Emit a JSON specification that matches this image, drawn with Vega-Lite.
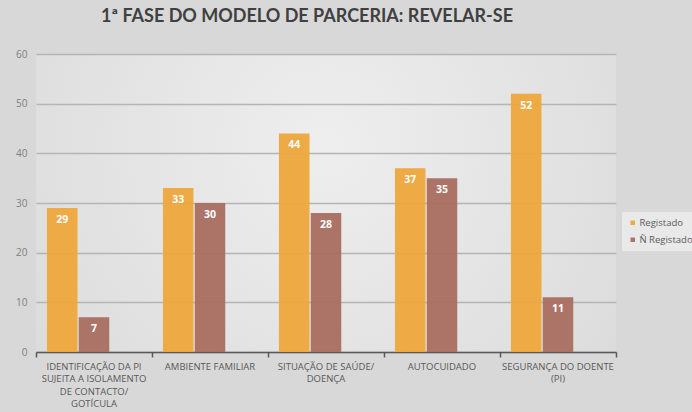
{
  "$schema": "https://vega.github.io/schema/vega-lite/v6.json",
  "width": 580,
  "height": 298,
  "autosize": {"type": "none"},
  "padding": {"left": 36, "top": 54, "right": 76, "bottom": 60},
  "background": "#d8d8d8",
  "title": {
    "text": "1ª FASE DO MODELO DE PARCERIA: REVELAR-SE",
    "fontSize": 18,
    "font": "Lato",
    "fontWeight": "bold",
    "color": "#404040",
    "anchor": "middle",
    "dx": -19,
    "offset": 23
  },
  "config": {
    "font": "Open Sans",
    "view": {
      "stroke": null,
      "fill": {
        "gradient": "radial",
        "x1": 0.5, "y1": 0.4, "r1": 0,
        "x2": 0.5, "y2": 0.4, "r2": 0.75,
        "stops": [
          {"offset": 0, "color": "#eeeeee"},
          {"offset": 1, "color": "#d8d8d8"}
        ]
      }
    }
  },
  "data": {
    "values": [
      {"cat": "IDENTIFICAÇÃO DA PI|SUJEITA A ISOLAMENTO|DE CONTACTO/|GOTÍCULA", "series": "Registado", "value": 29},
      {"cat": "IDENTIFICAÇÃO DA PI|SUJEITA A ISOLAMENTO|DE CONTACTO/|GOTÍCULA", "series": "Ñ Registado", "value": 7},
      {"cat": "AMBIENTE FAMILIAR", "series": "Registado", "value": 33},
      {"cat": "AMBIENTE FAMILIAR", "series": "Ñ Registado", "value": 30},
      {"cat": "SITUAÇÃO DE SAÚDE/|DOENÇA", "series": "Registado", "value": 44},
      {"cat": "SITUAÇÃO DE SAÚDE/|DOENÇA", "series": "Ñ Registado", "value": 28},
      {"cat": "AUTOCUIDADO", "series": "Registado", "value": 37},
      {"cat": "AUTOCUIDADO", "series": "Ñ Registado", "value": 35},
      {"cat": "SEGURANÇA DO DOENTE|(PI)", "series": "Registado", "value": 52},
      {"cat": "SEGURANÇA DO DOENTE|(PI)", "series": "Ñ Registado", "value": 11}
    ]
  },
  "encoding": {
    "x": {
      "field": "cat",
      "type": "nominal",
      "sort": null,
      "scale": {"paddingInner": 0, "paddingOuter": 0},
      "axis": {
        "title": null,
        "labelAngle": 0,
        "labelExpr": "split(datum.label, '|')",
        "labelColor": "#595959",
        "labelFontSize": 9.5,
        "labelLineHeight": 12.5,
        "labelBaseline": "top",
        "labelPadding": 4,
        "labelLimit": 0,
        "bandPosition": 1,
        "tickExtra": true,
        "ticks": true,
        "tickSize": 5,
        "tickWidth": 1.5,
        "tickColor": "#595959",
        "domainColor": "#595959",
        "domainWidth": 1.5,
        "grid": false
      }
    },
    "xOffset": {
      "field": "series",
      "scale": {"domain": ["Registado", "Ñ Registado", "-"], "paddingInner": 0.04, "paddingOuter": 0.345}
    },
    "y": {
      "field": "value",
      "type": "quantitative",
      "scale": {"domain": [0, 60]},
      "axis": {
        "title": null,
        "values": [0, 10, 20, 30, 40, 50, 60],
        "domain": false,
        "ticks": false,
        "labelColor": "#7f7f7f",
        "labelFontSize": 10,
        "labelPadding": 9,
        "gridColor": "#b5b5b5",
        "gridWidth": 1.3
      }
    }
  },
  "layer": [
    {
      "mark": {"type": "bar", "opacity": 0.95},
      "encoding": {
        "color": {
          "field": "series",
          "type": "nominal",
          "scale": {"domain": ["Registado", "Ñ Registado"], "range": ["#EDA63C", "#A86E60"]},
          "legend": {
            "title": null,
            "orient": "none",
            "legendX": 586,
            "legendY": 158,
            "fillColor": "#e9e9e9",
            "padding": 6,
            "symbolType": "square",
            "symbolSize": 20,
            "symbolStrokeWidth": 0,
            "labelFontSize": 9.5,
            "labelColor": "#595959",
            "labelOffset": 2,
            "rowPadding": 6
          }
        }
      }
    },
    {
      "mark": {"type": "text", "fill": "white", "fontWeight": "bold", "fontSize": 10.5, "baseline": "middle", "dy": 12},
      "encoding": {"text": {"field": "value", "type": "quantitative"}}
    }
  ]
}
